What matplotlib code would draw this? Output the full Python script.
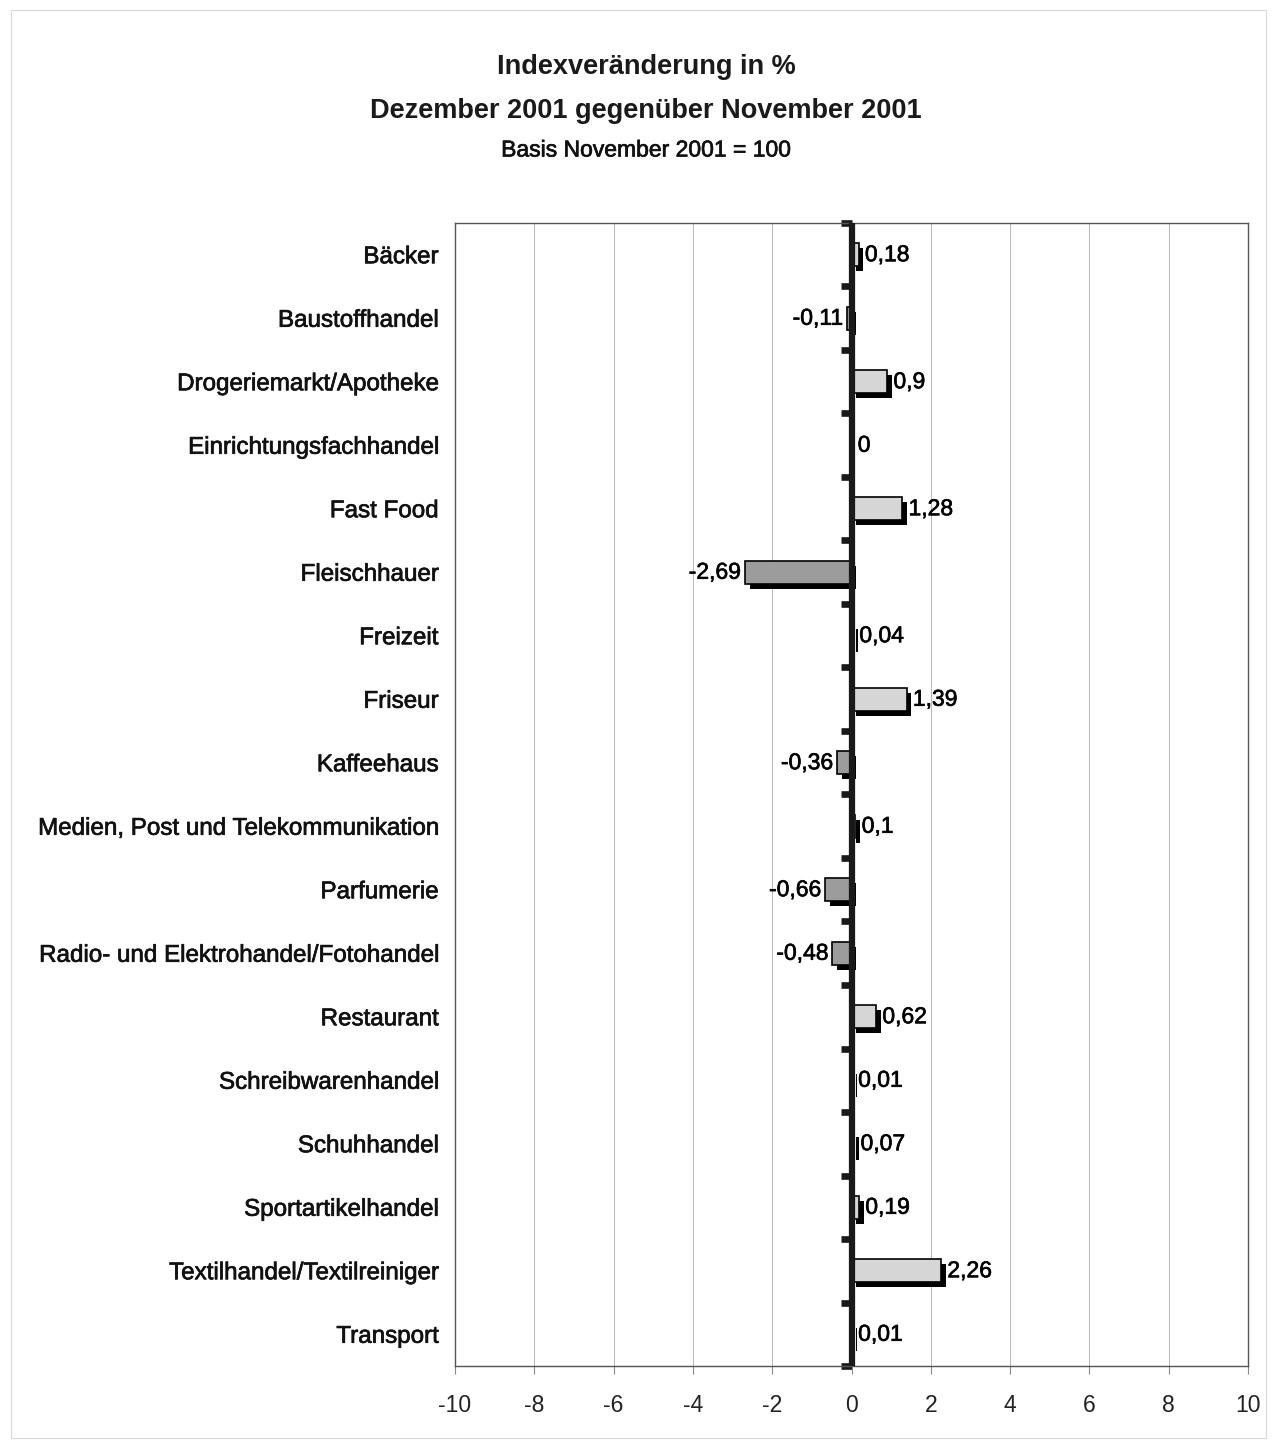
import matplotlib
matplotlib.use("Agg")
import matplotlib.pyplot as plt
import matplotlib.patheffects as pe
from matplotlib.patches import Rectangle

plt.rcParams['font.family'] = ['Liberation Sans', 'DejaVu Sans']

categories = ["Bäcker", "Baustoffhandel", "Drogeriemarkt/Apotheke", "Einrichtungsfachhandel",
              "Fast Food", "Fleischhauer", "Freizeit", "Friseur", "Kaffeehaus",
              "Medien, Post und Telekommunikation", "Parfumerie",
              "Radio- und Elektrohandel/Fotohandel", "Restaurant", "Schreibwarenhandel",
              "Schuhhandel", "Sportartikelhandel", "Textilhandel/Textilreiniger", "Transport"]
values = [0.18, -0.11, 0.9, 0, 1.28, -2.69, 0.04, 1.39, -0.36, 0.1, -0.66, -0.48,
          0.62, 0.01, 0.07, 0.19, 2.26, 0.01]
xticks = [-10, -8, -6, -4, -2, 0, 2, 4, 6, 8, 10]

bold_fx = [pe.withStroke(linewidth=0.5, foreground='#111111')]

fig = plt.figure(figsize=(12.77, 14.44), dpi=100)
fig.patches.append(Rectangle((0.009, 0.004), 0.982, 0.989, transform=fig.transFigure,
                             fill=False, edgecolor='#d8d8d8', linewidth=0.8))

ax = fig.add_axes([455/1277, 1 - 1366/1444, (1248 - 455)/1277, (1366 - 223)/1444])
n = len(categories)
ypos = list(range(n))
colors = ['#d6d6d6' if v >= 0 else '#9c9c9c' for v in values]
bars = ax.barh(ypos, values, height=0.36, color=colors, edgecolor='black', linewidth=1.2,
               zorder=3)
for b in bars:
    b.set_path_effects([pe.SimplePatchShadow(offset=(3.5, -3.5), shadow_rgbFace='black',
                                             alpha=1.0), pe.Normal()])

ax.set_xlim(-10, 10)
ax.set_ylim(n - 0.5, -0.5)
ax.set_xticks(xticks)
ax.set_xticklabels([str(t) for t in xticks], fontsize=16.5, color='#222222')
ax.tick_params(axis='x', length=6, width=0.8, color='#888888', pad=14)
ax.set_yticks(ypos)
ax.set_yticklabels(categories, fontsize=17.4, color='#111111')
ax.tick_params(axis='y', length=0, pad=12)
for t in ax.get_yticklabels():
    t.set_path_effects(bold_fx)
ax.grid(axis='x', color='#ababab', linewidth=0.6, zorder=0)
for s in ax.spines.values():
    s.set_color('#555555')
    s.set_linewidth(1.0)

ax.axvline(0, color='#1a1a1a', linewidth=4.5, zorder=4)
sec = ax.secondary_yaxis(0.5)
sec.set_yticks([i - 0.5 for i in range(n + 1)])
sec.set_yticklabels([])
sec.tick_params(axis='y', length=8, width=4.8, color='#1a1a1a', direction='in')
sec.spines['left'].set_linewidth(0)

for y, v in zip(ypos, values):
    label = f"{v:g}".replace('.', ',')
    if v >= 0:
        txt = ax.annotate(label, (v, y), xytext=(4.5, 0), textcoords='offset points',
                          ha='left', va='center', fontsize=16.5, zorder=5)
    else:
        txt = ax.annotate(label, (v, y), xytext=(-3, 0), textcoords='offset points',
                          ha='right', va='center', fontsize=16.5, zorder=5)
    txt.set_path_effects(bold_fx)

cx = 646 / 1277
fig.text(cx, 1 - 67/1444, "Indexveränderung in %", ha='center', va='center',
         fontsize=19.5, fontweight='bold', color='#1a1a1a')
fig.text(cx, 1 - 111/1444, "Dezember 2001 gegenüber November 2001", ha='center',
         va='center', fontsize=19.5, fontweight='bold', color='#1a1a1a')
t3 = fig.text(cx, 1 - 150/1444, "Basis November 2001 = 100", ha='center', va='center',
              fontsize=16.5, color='#111111')
t3.set_path_effects(bold_fx)

fig.savefig("out.png", dpi=100, facecolor='white')
